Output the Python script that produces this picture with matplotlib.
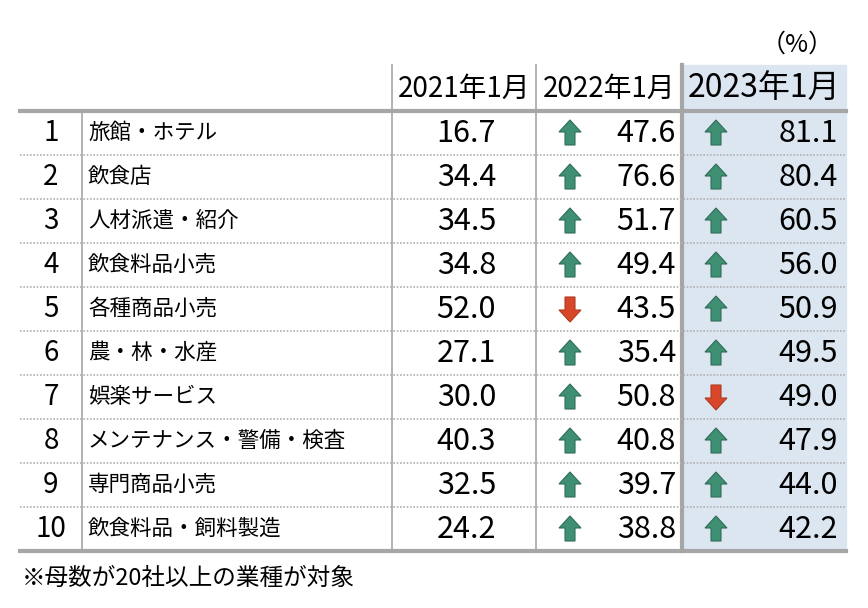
import matplotlib
matplotlib.use("Agg")
import matplotlib.pyplot as plt
from matplotlib.patches import Rectangle, Polygon

plt.rcParams["font.family"] = "Noto Sans CJK JP"

ranks = [1, 2, 3, 4, 5, 6, 7, 8, 9, 10]
industries = ["旅館・ホテル", "飲食店", "人材派遣・紹介", "飲食料品小売", "各種商品小売",
              "農・林・水産", "娯楽サービス", "メンテナンス・警備・検査", "専門商品小売", "飲食料品・飼料製造"]
years = ["2021年1月", "2022年1月", "2023年1月"]
v2021 = [16.7, 34.4, 34.5, 34.8, 52.0, 27.1, 30.0, 40.3, 32.5, 24.2]
v2022 = [47.6, 76.6, 51.7, 49.4, 43.5, 35.4, 50.8, 40.8, 39.7, 38.8]
v2023 = [81.1, 80.4, 60.5, 56.0, 50.9, 49.5, 49.0, 47.9, 44.0, 42.2]

fig = plt.figure(figsize=(8.68, 6.08), dpi=100)
ax = fig.add_axes([0, 0, 1, 1])
ax.set_xlim(0, 868); ax.set_ylim(608, 0); ax.axis("off")

xs = [20, 82, 392, 536, 682, 846]
ytop, yhead = 65, 111
rh = 44
ybot = yhead + rh * len(ranks)
grey = "#a6a6a6"
up_c, dn_c = "#3f8f74", "#d8472a"

ax.add_patch(Rectangle((xs[4], ytop), xs[5] - xs[4], ybot - ytop, color="#dce6f1", zorder=0))

for i, x in enumerate(xs[1:5]):
    y0 = ytop if i >= 1 else yhead
    lw = 3 if x == xs[4] else 1.2
    ax.plot([x, x], [y0, ybot], color=grey, lw=lw, zorder=1)
ax.plot([xs[0], xs[5]], [yhead, yhead], color=grey, lw=3)
ax.plot([xs[0], xs[5]], [ybot, ybot], color=grey, lw=3)
for i in range(1, len(ranks)):
    y = yhead + rh * i
    ax.plot([xs[0], xs[5]], [y, y], color="#b0b0b0", lw=1.2, ls=(0, (1, 1)))

ax.text(xs[5] - 12, 45, "（%）", ha="right", va="center", fontsize=18)
for j, yl in enumerate(years):
    cx = (xs[2 + j] + xs[3 + j]) / 2
    ax.text(cx, yhead - 22, yl, ha="center", va="center", fontsize=23 if j == 2 else 20)

def arrow(cx, cy, up, col):
    s = 1 if up else -1
    pts = [(cx, cy - s * 13), (cx + 11, cy - s * 1), (cx + 5, cy - s * 1), (cx + 5, cy + s * 12),
           (cx - 5, cy + s * 12), (cx - 5, cy - s * 1), (cx - 11, cy - s * 1)]
    ax.add_patch(Polygon(pts, closed=True, facecolor=col, edgecolor="#2f6e58" if up else "#b03a20", lw=0.8))

for i in range(len(ranks)):
    cy = yhead + rh * i + rh / 2
    ax.text((xs[0] + xs[1]) / 2, cy, str(ranks[i]), ha="center", va="center", fontsize=20)
    ax.text(xs[1] + 6, cy, industries[i], ha="left", va="center", fontsize=15.5)
    ax.text(496, cy, f"{v2021[i]:.1f}", ha="right", va="center", fontsize=22)
    ax.text(676, cy, f"{v2022[i]:.1f}", ha="right", va="center", fontsize=22)
    ax.text(838, cy, f"{v2023[i]:.1f}", ha="right", va="center", fontsize=22)
    u2 = v2022[i] >= v2021[i]
    arrow(570, cy, u2, up_c if u2 else dn_c)
    u3 = v2023[i] >= v2022[i]
    arrow(716, cy, u3, up_c if u3 else dn_c)

ax.text(22, 578, "※母数が20社以上の業種が対象", ha="left", va="center", fontsize=17)

fig.savefig("out.png", dpi=100)
